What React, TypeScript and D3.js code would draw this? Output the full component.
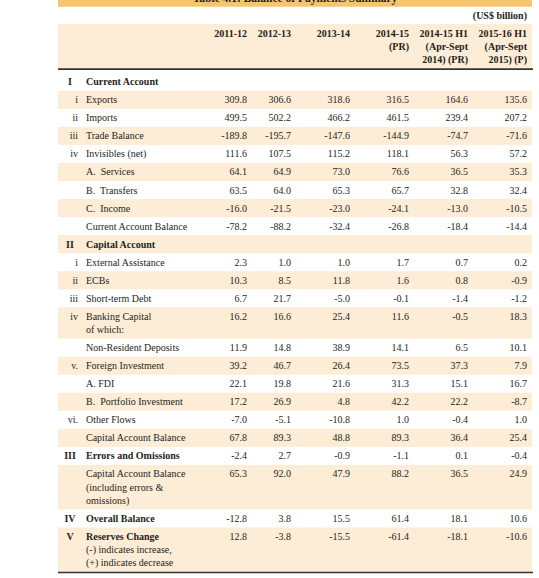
import React from "react";
import * as d3 from "d3";

const title = "Table 4.1: Balance of Payments Summary";
const unitLabel = "(US$ billion)";
const columnHeaders: string[][] = [
  ["2011-12"],
  ["2012-13"],
  ["2013-14"],
  ["2014-15", "(PR)"],
  ["2014-15 H1", "(Apr-Sept", "2014) (PR)"],
  ["2015-16 H1", "(Apr-Sept", "2015) (P)"],
];

const rowNumerals = [
  "I", "i", "ii", "iii", "iv", "", "", "", "",
  "II", "i", "ii", "iii", "iv", "", "v.", "", "", "vi.", "",
  "III", "", "IV", "V",
];
const rowLabels: string[][] = [
  ["Current Account"],
  ["Exports"],
  ["Imports"],
  ["Trade Balance"],
  ["Invisibles (net)"],
  ["A.  Services"],
  ["B.  Transfers"],
  ["C.  Income"],
  ["Current Account Balance"],
  ["Capital Account"],
  ["External Assistance"],
  ["ECBs"],
  ["Short-term Debt"],
  ["Banking Capital", "of which:"],
  ["Non-Resident Deposits"],
  ["Foreign Investment"],
  ["A. FDI"],
  ["B.  Portfolio Investment"],
  ["Other Flows"],
  ["Capital Account Balance"],
  ["Errors and Omissions"],
  ["Capital Account Balance", "(including errors &", "omissions)"],
  ["Overall Balance"],
  ["Reserves Change", "(-) indicates increase,", "(+) indicates decrease"],
];
const boldRows = [0, 9, 20, 22, 23];

const v2011_12 = [null, "309.8", "499.5", "-189.8", "111.6", "64.1", "63.5", "-16.0", "-78.2", null, "2.3", "10.3", "6.7", "16.2", "11.9", "39.2", "22.1", "17.2", "-7.0", "67.8", "-2.4", "65.3", "-12.8", "12.8"];
const v2012_13 = [null, "306.6", "502.2", "-195.7", "107.5", "64.9", "64.0", "-21.5", "-88.2", null, "1.0", "8.5", "21.7", "16.6", "14.8", "46.7", "19.8", "26.9", "-5.1", "89.3", "2.7", "92.0", "3.8", "-3.8"];
const v2013_14 = [null, "318.6", "466.2", "-147.6", "115.2", "73.0", "65.3", "-23.0", "-32.4", null, "1.0", "11.8", "-5.0", "25.4", "38.9", "26.4", "21.6", "4.8", "-10.8", "48.8", "-0.9", "47.9", "15.5", "-15.5"];
const v2014_15 = [null, "316.5", "461.5", "-144.9", "118.1", "76.6", "65.7", "-24.1", "-26.8", null, "1.7", "1.6", "-0.1", "11.6", "14.1", "73.5", "31.3", "42.2", "1.0", "89.3", "-1.1", "88.2", "61.4", "-61.4"];
const v2014_15H1 = [null, "164.6", "239.4", "-74.7", "56.3", "36.5", "32.8", "-13.0", "-18.4", null, "0.7", "0.8", "-1.4", "-0.5", "6.5", "37.3", "15.1", "22.2", "-0.4", "36.4", "0.1", "36.5", "18.1", "-18.1"];
const v2015_16H1 = [null, "135.6", "207.2", "-71.6", "57.2", "35.3", "32.4", "-10.5", "-14.4", null, "0.2", "-0.9", "-1.2", "18.3", "10.1", "7.9", "16.7", "-8.7", "1.0", "25.4", "-0.4", "24.9", "10.6", "-10.6"];
const columnValues = [v2011_12, v2012_13, v2013_14, v2014_15, v2014_15H1, v2015_16H1];

// layout
const W = 539;
const H = 578;
const tableLeft = 58;
const tableRight = 532;
const colRight = [247, 291, 350, 409, 468, 527];
const rowPitch = 18.05;
const linePitch = 13.2;
const firstRowTop = 72.7;
const numeralRight = 78;
const sectionCenter = 70;
const labelX = 86;
const FONT = "'Liberation Serif', 'Times New Roman', serif";
const TEXT = "#231f20";
const BAND = "#fdecd6";
const BAR = "#f7c471";

export default function App() {
  const rowTops: number[] = [];
  const rowHeights: number[] = [];
  let y = firstRowTop;
  rowLabels.forEach((lines) => {
    rowTops.push(y);
    const h = rowPitch + (lines.length - 1) * linePitch;
    rowHeights.push(h);
    y += h;
  });
  const tableBottom = y;

  const xCol = d3.scaleOrdinal<number, number>().domain(d3.range(columnValues.length)).range(colRight);

  return (
    <svg
      width={W}
      height={H}
      style={{ position: "absolute", left: 0, top: 0, background: "#fff" }}
      fontFamily={FONT}
      fontSize={10}
      fill={TEXT}
    >
      <rect x={0} y={0} width={W} height={H} fill="#fff" />
      {/* title bar */}
      <rect x={tableLeft} y={0} width={tableRight - tableLeft} height={6.7} fill={BAR} />
      <text x={(tableLeft + tableRight) / 2} y={2.2} textAnchor="middle" fontWeight="bold" fontSize={11.5}>
        {title}
      </text>
      {/* unit */}
      <text x={colRight[5]} y={19} textAnchor="end" fontWeight="bold">
        {unitLabel}
      </text>
      {/* header band */}
      <rect x={tableLeft} y={24} width={tableRight - tableLeft} height={44.5} fill={BAND} />
      {columnHeaders.map((lines, ci) =>
        lines.map((ln, li) => (
          <text key={`h${ci}-${li}`} x={xCol(ci)} y={37 + li * 13} textAnchor="end" fontWeight="bold">
            {ln}
          </text>
        ))
      )}
      <line x1={tableLeft} x2={tableRight + 1} y1={69.2} y2={69.2} stroke="#333" strokeWidth={1.8} />
      {/* rows */}
      {rowLabels.map((lines, ri) => {
        const top = rowTops[ri];
        const bold = boldRows.includes(ri);
        const isSection = ri === 0 || ri === 9 || ri === 20 || ri === 22 || ri === 23;
        return (
          <g key={`r${ri}`}>
            {ri % 2 === 1 && (
              <rect x={tableLeft} y={top} width={tableRight - tableLeft} height={rowHeights[ri]} fill={BAND} />
            )}
            {rowNumerals[ri] && (
              <text
                x={isSection ? sectionCenter : numeralRight}
                y={top + 12.5}
                textAnchor={isSection ? "middle" : "end"}
                fontWeight={isSection ? "bold" : "normal"}
              >
                {rowNumerals[ri]}
              </text>
            )}
            {lines.map((ln, li) => (
              <text
                key={`l${li}`}
                x={labelX}
                y={top + 12.5 + li * linePitch}
                fontWeight={bold && li === 0 ? "bold" : "normal"}
                style={{ whiteSpace: "pre" }}
              >
                {ln}
              </text>
            ))}
            {columnValues.map((vals, ci) =>
              vals[ri] != null ? (
                <text key={`v${ci}`} x={xCol(ci)} y={top + 12.5} textAnchor="end">
                  {vals[ri]}
                </text>
              ) : null
            )}
          </g>
        );
      })}
      <line x1={tableLeft} x2={tableRight + 1} y1={tableBottom + 0.5} y2={tableBottom + 0.5} stroke="#333" strokeWidth={1.5} />
    </svg>
  );
}
